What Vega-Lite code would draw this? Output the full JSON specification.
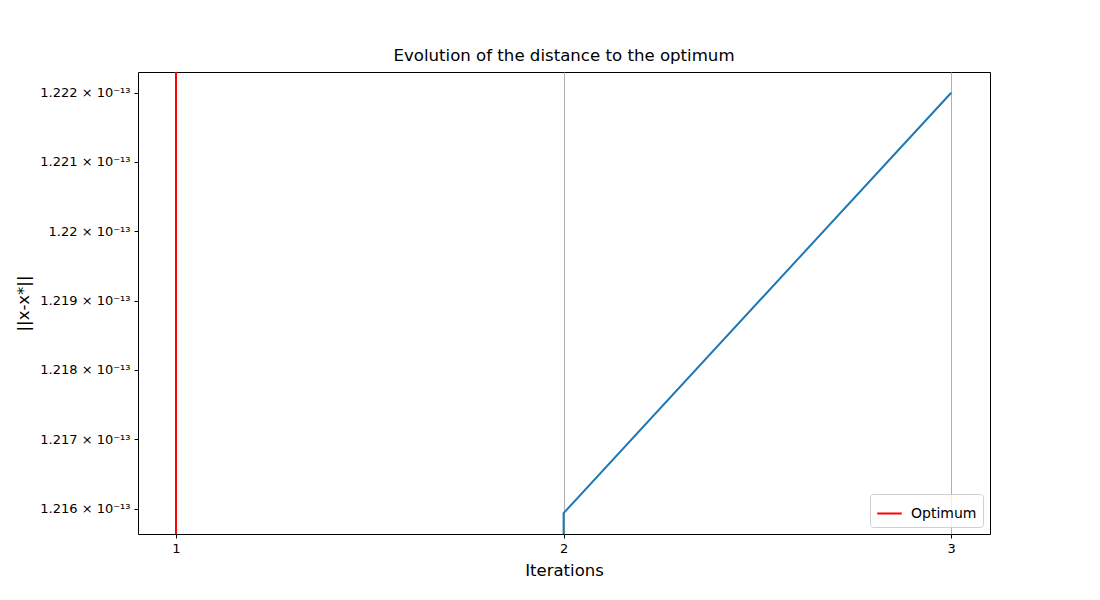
{
  "$schema": "https://vega.github.io/schema/vega-lite/v6.json",
  "width": 852,
  "height": 462,
  "autosize": "none",
  "padding": {"left": 138, "top": 72, "right": 110, "bottom": 66},
  "background": "white",
  "config": {
    "font": "DejaVu Sans",
    "view": {"stroke": "black", "strokeWidth": 1},
    "axis": {"labelFont": "DejaVu Sans", "titleFont": "DejaVu Sans", "labelColor": "black", "titleColor": "black", "tickColor": "black", "domain": false, "titleFontWeight": "normal", "labelFontSize": 13, "titleFontSize": 16.5, "tickSize": 4}
  },
  "title": {"text": "Evolution of the distance to the optimum", "fontSize": 16.6, "fontWeight": "normal", "font": "DejaVu Sans", "offset": 6, "color": "black"},
  "datasets": {
    "dist": [
      {"iteration": 2, "distance": 1.2150e-13, "step": 0},
      {"iteration": 2, "distance": 1.21594e-13, "step": 1},
      {"iteration": 3, "distance": 1.2220e-13, "step": 2}
    ],
    "opt": [{"iteration": 1, "label": "Optimum"}]
  },
  "layer": [
    {
      "data": {"name": "dist"},
      "mark": {"type": "line", "color": "#1f77b4", "strokeWidth": 2, "clip": true},
      "encoding": {
        "x": {
          "field": "iteration", "type": "quantitative",
          "scale": {"domain": [0.902, 3.1], "nice": false, "zero": false},
          "axis": {"values": [1, 2, 3], "format": "d", "title": "Iterations", "grid": true, "gridColor": "#b0b0b0", "gridWidth": 1, "labelPadding": 4, "titlePadding": 7}
        },
        "y": {
          "field": "distance", "type": "quantitative",
          "scale": {"type": "log", "domain": [1.21564e-13, 1.2223e-13], "nice": false, "zero": false},
          "axis": {
            "values": [1.216e-13, 1.217e-13, 1.218e-13, 1.219e-13, 1.22e-13, 1.221e-13, 1.222e-13],
            "labelExpr": "format(datum.value * 1e13, '.4~f') + ' × 10⁻¹³'",
            "title": "||x-x*||", "grid": false, "labelPadding": 4, "titlePadding": 8
          }
        },
        "order": {"field": "step", "type": "quantitative"}
      }
    },
    {
      "data": {"name": "opt"},
      "mark": {"type": "rule", "strokeWidth": 2},
      "encoding": {
        "x": {"field": "iteration", "type": "quantitative"},
        "color": {
          "field": "label", "type": "nominal",
          "scale": {"range": ["red"]},
          "legend": {
            "title": null, "orient": "bottom-right", "offset": 7,
            "symbolType": "stroke", "symbolStrokeWidth": 2, "symbolSize": 600,
            "labelFontSize": 14, "labelFont": "DejaVu Sans", "labelColor": "black", "labelOffset": 8,
            "strokeColor": "#d0d0d0", "fillColor": "rgba(255,255,255,0.8)", "cornerRadius": 3,
            "padding": 6
          }
        }
      }
    }
  ]
}
